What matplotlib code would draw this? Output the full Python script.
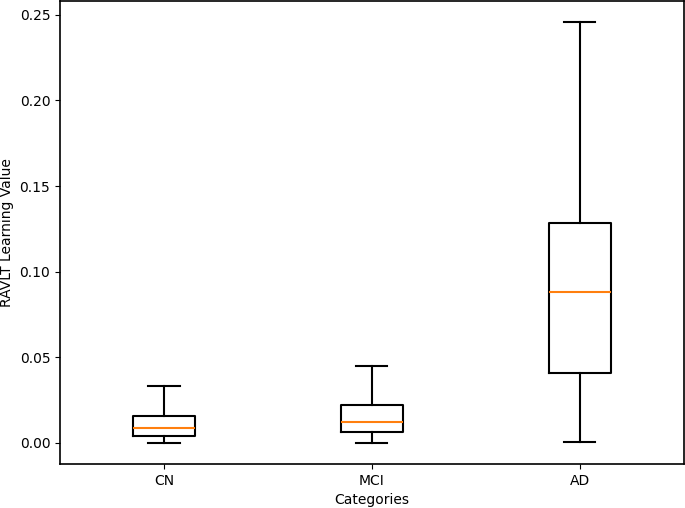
import matplotlib
matplotlib.use("Agg")
import matplotlib.pyplot as plt

categories = ["CN", "MCI", "AD"]
whislo = [0.0, 0.0002, 0.0004]
q1 = [0.0039, 0.0064, 0.0408]
med = [0.0085, 0.0122, 0.0883]
q3 = [0.0157, 0.0219, 0.1283]
whishi = [0.0330, 0.0452, 0.2458]

stats = []
for i, c in enumerate(categories):
    stats.append(dict(label=c, whislo=whislo[i], q1=q1[i], med=med[i],
                      q3=q3[i], whishi=whishi[i], fliers=[]))

plt.rcParams["axes.linewidth"] = 1.2
fig, ax = plt.subplots(figsize=(6.85, 5.08), dpi=100)
fig.subplots_adjust(left=0.0876, right=0.998, top=0.998, bottom=0.0866)
lw = 1.5
ax.bxp(stats, positions=[1, 2, 3], widths=0.3, showfliers=False,
       boxprops=dict(linewidth=lw), whiskerprops=dict(linewidth=lw),
       capprops=dict(linewidth=lw), medianprops=dict(linewidth=lw, color="C1"))
ax.set_xlabel("Categories")
ax.set_ylabel("RAVLT Learning Value")
fig.savefig("out.png", dpi=100)
